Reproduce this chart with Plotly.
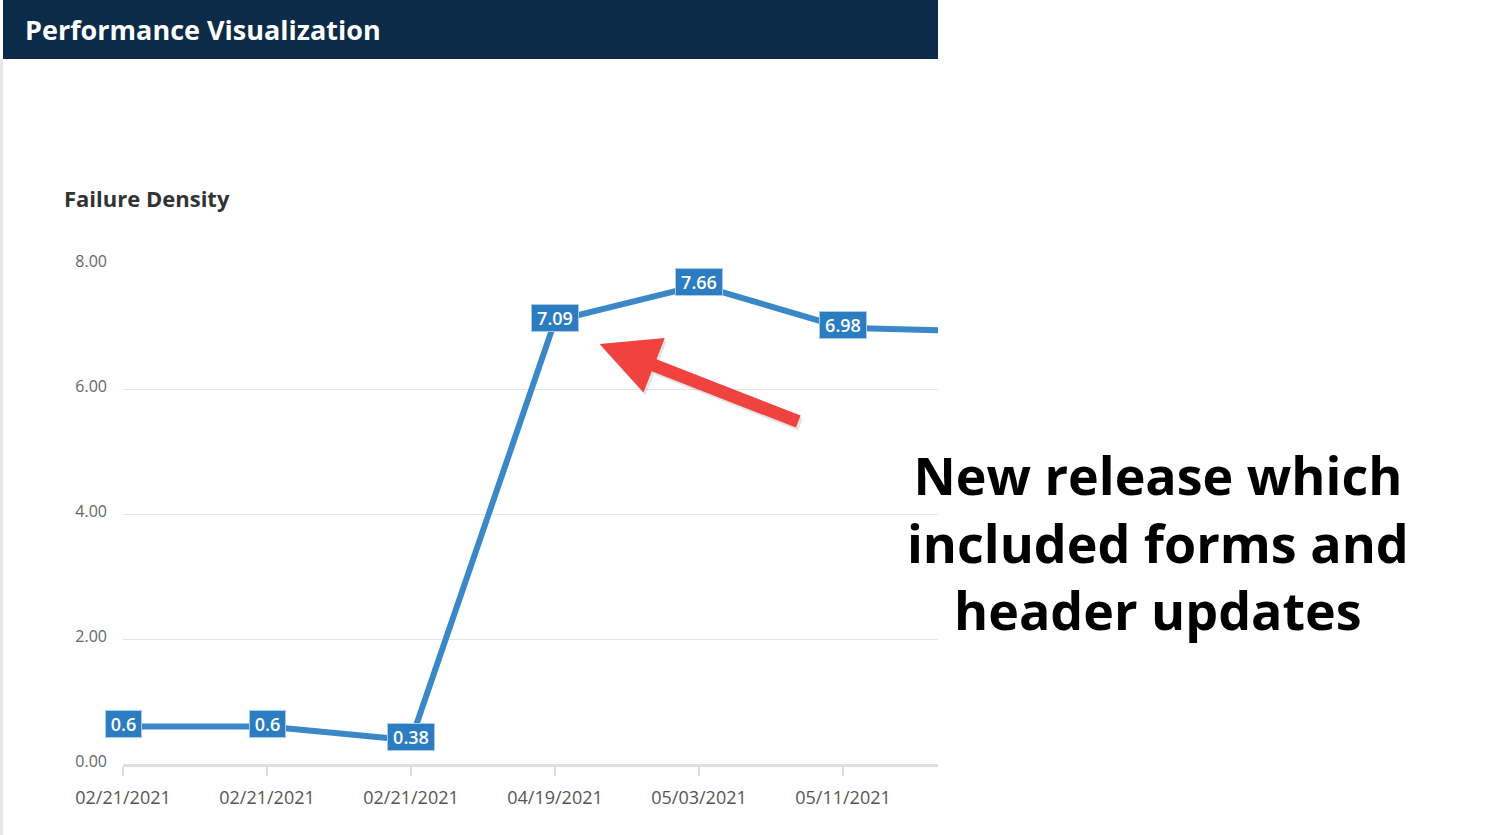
import plotly.graph_objects as go

# ---- data ----
categories = ["02/21/2021", "02/21/2021", "02/21/2021", "04/19/2021", "05/03/2021", "05/11/2021", ""]
values = [0.6, 0.6, 0.38, 7.09, 7.66, 6.98, 6.92]
value_labels = ["0.6", "0.6", "0.38", "7.09", "7.66", "6.98", ""]
y_ticks = [0, 2, 4, 6, 8]
positions = list(range(len(categories)))

W, H = 1500, 835
PL, PR, PT, PB = 123, 938, 264, 764  # plot area in pixels
x_unit = 144.0
x_max = (PR - PL) / x_unit

LINE = "#3b88c9"
BOX = "#2b7cc1"
LABEL_SIZE = 18

fig = go.Figure()
fig.add_trace(go.Scatter(
    x=positions, y=values, mode="lines",
    line=dict(color=LINE, width=6),
    hoverinfo="skip", showlegend=False, cliponaxis=True,
))

annotations = []
for xi, v, lab in zip(positions, values, value_labels):
    if not lab or xi > x_max:
        continue
    n_digits = sum(c.isdigit() for c in lab)
    tw = LABEL_SIZE * (0.572 * n_digits + 0.27)
    annotations.append(dict(
        x=xi, y=v, xref="x", yref="y", text=lab, showarrow=False,
        font=dict(family="Open Sans", size=LABEL_SIZE, color="white", weight=600),
        bgcolor=BOX, bordercolor="#a9cbea", borderwidth=1, borderpad=1,
        width=round(tw + 8), height=24,
        yshift=3,
    ))

# shadow of the arrow
annotations.append(dict(
    x=3.31, y=6.72, xref="x", yref="y",
    ax=4.70, ay=5.47, axref="x", ayref="y",
    showarrow=True, arrowhead=2, arrowsize=0.9, arrowwidth=13,
    arrowcolor="rgba(0,0,0,0.10)", text="", standoff=0, xshift=2, yshift=-3,
))
# red arrow pointing at the release jump
annotations.append(dict(
    x=3.31, y=6.72, xref="x", yref="y",
    ax=4.70, ay=5.47, axref="x", ayref="y",
    showarrow=True, arrowhead=2, arrowsize=0.9, arrowwidth=13,
    arrowcolor="#f0423f", text="", standoff=0,
))

# big explanatory text
annotations.append(dict(
    x=1158, y=542, text="New release which<br>included forms and<br>header updates",
    showarrow=False, font=dict(family="Open Sans", size=52, color="#000000", weight="bold"),
    xanchor="center", yanchor="middle", align="center",
))

annotations.append(dict(
    x=23, y=29, text="<b>Performance Visualization</b>", showarrow=False,
    font=dict(family="Open Sans", size=27, color="white"), xanchor="left", yanchor="middle",
))
annotations.append(dict(
    x=62, y=198, text="<b>Failure Density</b>", showarrow=False,
    font=dict(family="Open Sans", size=22, color="#333333"), xanchor="left", yanchor="middle",
))

def px_x(p):
    return (p - PL) / (PR - PL)

def px_y(p):
    return (PB - p) / (PB - PT)

# convert pixel-positioned annotations to paper fractions
for a in annotations:
    if a.get("xref") == "x":
        continue
    a["xref"] = "paper"; a["yref"] = "paper"
    a["x"] = px_x(a["x"])
    a["y"] = px_y(a["y"])

shapes = [
    dict(type="rect", xref="paper", yref="paper", x0=px_x(3), x1=px_x(938), y0=px_y(59), y1=px_y(0),
         fillcolor="#0b2b48", line=dict(width=0), layer="below"),
    dict(type="rect", xref="paper", yref="paper", x0=px_x(0), x1=px_x(3), y0=px_y(835), y1=px_y(59),
         fillcolor="#e6e6e6", line=dict(width=0), layer="below"),
]

fig.update_layout(
    width=W, height=H,
    margin=dict(l=PL, r=W - PR, t=PT, b=H - PB, pad=0),
    paper_bgcolor="white", plot_bgcolor="white",
    font=dict(family="Open Sans", color="#666666"),
    showlegend=False,
    annotations=annotations, shapes=shapes,
    xaxis=dict(
        range=[0, x_max], tickmode="array", tickvals=positions, ticktext=categories,
        showgrid=False, zeroline=False, showline=True, linecolor="#dedede", linewidth=3,
        ticks="outside", ticklen=9, tickcolor="#dedede", tickwidth=2,
        tickfont=dict(family="Open Sans", size=18, color="#555555"),
        ticklabelstandoff=6, fixedrange=True,
    ),
    yaxis=dict(
        range=[0, 8], tickmode="array", tickvals=y_ticks, tickformat=".2f",
        showgrid=True, gridcolor="#e6e6e6", gridwidth=1, zeroline=False, showline=False,
        tickfont=dict(family="Open Sans", size=16, color="#666666"),
        ticklabelstandoff=15, ticklabelshift=-3, fixedrange=True,
    ),
)

fig.write_html("out.html", config={"displayModeBar": False},
               post_script="document.body.style.margin='0';document.body.style.overflow='hidden';")
